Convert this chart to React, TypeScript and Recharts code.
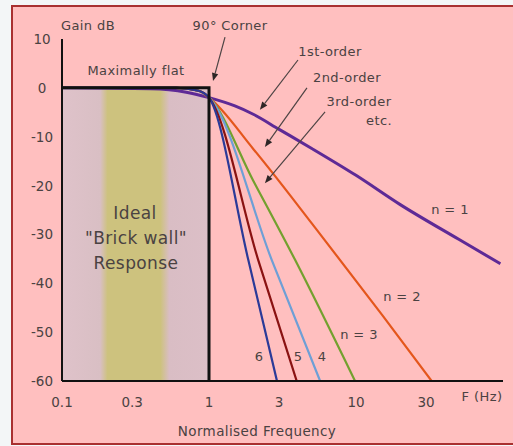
import React from "react";
import { LineChart, Line, XAxis, YAxis, ReferenceArea, ReferenceLine } from "recharts";

// frequency (normalised) vs gain (dB)
const freqTicks = [0.1, 0.3, 1, 3, 10, 30];
const gainTicks = [10, 0, -10, -20, -30, -40, -50, -60];

const ideal = [
  { f: 0.1, db: 0 },
  { f: 1, db: 0 },
  { f: 1, db: -60 },
];

const order1 = [
  { f: 0.1, db: 0 },
  { f: 0.4, db: -0.2 },
  { f: 0.7, db: -0.9 },
  { f: 1, db: -2 },
  { f: 1.5, db: -3.7 },
  { f: 2, db: -5.4 },
  { f: 3, db: -8.5 },
  { f: 5, db: -12.4 },
  { f: 10, db: -17.9 },
  { f: 20, db: -23.9 },
  { f: 50, db: -31 },
  { f: 96, db: -36 },
];

const order2 = [
  { f: 0.1, db: 0 },
  { f: 0.6, db: 0 },
  { f: 0.85, db: -0.6 },
  { f: 1, db: -2 },
  { f: 2, db: -12.5 },
  { f: 5.3, db: -28.7 },
  { f: 15, db: -46.4 },
  { f: 32.7, db: -60 },
];

const order3 = [
  { f: 0.1, db: 0 },
  { f: 0.6, db: 0 },
  { f: 0.85, db: -0.6 },
  { f: 1, db: -2 },
  { f: 2, db: -19 },
  { f: 3.85, db: -35.2 },
  { f: 9.85, db: -60 },
];

const order4 = [
  { f: 0.1, db: 0 },
  { f: 0.6, db: 0 },
  { f: 0.85, db: -0.6 },
  { f: 1, db: -2 },
  { f: 2.67, db: -35.2 },
  { f: 5.7, db: -60 },
];

const order5 = [
  { f: 0.1, db: 0 },
  { f: 0.6, db: 0 },
  { f: 0.85, db: -0.6 },
  { f: 1, db: -2 },
  { f: 2.16, db: -35.2 },
  { f: 3.95, db: -60 },
];

const order6 = [
  { f: 0.1, db: 0 },
  { f: 0.6, db: 0 },
  { f: 0.85, db: -0.6 },
  { f: 1, db: -2 },
  { f: 1.85, db: -35.2 },
  { f: 2.9, db: -60 },
];

// pointer arrows, in data units: [from, to]
const arrows = [
  [{ x: 1.285, y: 10.4 }, { x: 1.065, y: 1.4 }],
  [{ x: 4.03, y: 5.7 }, { x: 2.22, y: -4.5 }],
  [{ x: 4.64, y: 0 }, { x: 2.4, y: -12.1 }],
  [{ x: 6.16, y: -4.9 }, { x: 2.4, y: -19.5 }],
];

const textColor = "#4a4242";
const font = "'DejaVu Sans', sans-serif";

function ArrowShape(props: any) {
  const { x1, y1, x2, y2 } = props;
  if ([x1, y1, x2, y2].some((v) => typeof v !== "number" || isNaN(v))) return null;
  const ang = Math.atan2(y2 - y1, x2 - x1);
  const len = 8;
  const half = 3.2;
  const bx = x2 - len * Math.cos(ang);
  const by = y2 - len * Math.sin(ang);
  const px = -Math.sin(ang) * half;
  const py = Math.cos(ang) * half;
  return (
    <g>
      <line x1={x1} y1={y1} x2={bx} y2={by} stroke="#4d4444" strokeWidth={1.2} />
      <polygon
        points={`${x2},${y2} ${bx + px},${by + py} ${bx - px},${by - py}`}
        fill="#2e2626"
      />
    </g>
  );
}

function YTick(props: any) {
  const { x, y, payload } = props;
  return (
    <text x={x - 12} y={y} dy={5} textAnchor="middle" fontSize={13.5} fontFamily={font} fill={textColor}>
      {payload.value}
    </text>
  );
}

function XTick(props: any) {
  const { x, y, payload } = props;
  return (
    <text x={x} y={y} dy={12} textAnchor="middle" fontSize={13.5} fontFamily={font} fill={textColor}>
      {payload.value}
    </text>
  );
}

const labelStyle = { fontSize: 13, fontFamily: font, fill: textColor, letterSpacing: 0.4 };

export default function App() {
  return (
    <div style={{ position: "absolute", left: 0, top: 0, width: 513, height: 446, background: "#f3f6f7", overflow: "hidden" }}>
      <svg width={0} height={0} style={{ position: "absolute" }}>
        <defs>
          <linearGradient id="brickGrad" x1="0" y1="0" x2="1" y2="0">
            <stop offset="0" stopColor="#dfc2ca" />
            <stop offset="0.26" stopColor="#d9bfc4" />
            <stop offset="0.31" stopColor="#cdc27e" />
            <stop offset="0.67" stopColor="#cdc27e" />
            <stop offset="0.73" stopColor="#d9bdc4" />
            <stop offset="1" stopColor="#dcbfc7" />
          </linearGradient>
        </defs>
      </svg>
      <div
        style={{
          position: "absolute",
          left: 11,
          top: 5,
          width: 520,
          height: 436,
          background: "#ffbfbf",
          border: "2px solid #a83030",
        }}
      />
      <div style={{ position: "absolute", left: 0, top: 0 }}>
        <LineChart width={513} height={446} margin={{ top: 39, right: 10, left: 12, bottom: 35 }}>
          <XAxis
            dataKey="f"
            type="number"
            scale="log"
            domain={[0.1, 100]}
            ticks={freqTicks}
            allowDataOverflow
            axisLine={{ stroke: "#111", strokeWidth: 2 }}
            tickLine={false}
            tickSize={0}
            tickMargin={14}
            tick={<XTick />}
            height={30}
          />
          <YAxis
            type="number"
            domain={[-60, 10]}
            ticks={gainTicks}
            allowDataOverflow
            axisLine={{ stroke: "#111", strokeWidth: 2 }}
            tickLine={false}
            tick={<YTick />}
            width={50}
          />
          <ReferenceArea x1={0.1} x2={1} y1={-60} y2={0} fill="url(#brickGrad)" fillOpacity={1} stroke="none" />
          <Line data={order1} dataKey="db" type="monotone" stroke="#5e2a96" strokeWidth={3} dot={false} isAnimationActive={false} />
          <Line data={order2} dataKey="db" type="monotone" stroke="#e4561c" strokeWidth={2.2} dot={false} isAnimationActive={false} />
          <Line data={order3} dataKey="db" type="monotone" stroke="#73a02e" strokeWidth={2.2} dot={false} isAnimationActive={false} />
          <Line data={order4} dataKey="db" type="monotone" stroke="#6e9fd6" strokeWidth={2.2} dot={false} isAnimationActive={false} />
          <Line data={order5} dataKey="db" type="monotone" stroke="#8a1212" strokeWidth={2.2} dot={false} isAnimationActive={false} />
          <Line data={order6} dataKey="db" type="monotone" stroke="#2b3a98" strokeWidth={2.2} dot={false} isAnimationActive={false} />
          <Line data={ideal} dataKey="db" type="linear" stroke="#111" strokeWidth={3} dot={false} isAnimationActive={false} />
          {arrows.map((seg, i) => (
            <ReferenceLine key={i} segment={seg} ifOverflow="visible" shape={<ArrowShape />} />
          ))}
        </LineChart>
      </div>
      <svg width={513} height={446} style={{ position: "absolute", left: 0, top: 0, pointerEvents: "none" }}>
        <text x={88} y={30} textAnchor="middle" {...labelStyle}>Gain dB</text>
        <text x={230} y={30} textAnchor="middle" {...labelStyle}>90° Corner</text>
        <text x={136} y={75} textAnchor="middle" {...labelStyle}>Maximally flat</text>
        <text x={330} y={56} textAnchor="middle" {...labelStyle}>1st-order</text>
        <text x={347} y={82} textAnchor="middle" {...labelStyle}>2nd-order</text>
        <text x={359} y={106} textAnchor="middle" {...labelStyle}>3rd-order</text>
        <text x={379} y={125} textAnchor="middle" {...labelStyle}>etc.</text>
        <text x={135} y={219} textAnchor="middle" {...labelStyle} fontSize={17}>Ideal</text>
        <text x={136} y={244} textAnchor="middle" {...labelStyle} fontSize={17}>"Brick wall"</text>
        <text x={136} y={269} textAnchor="middle" {...labelStyle} fontSize={17}>Response</text>
        <text x={450} y={214} textAnchor="middle" {...labelStyle}>n = 1</text>
        <text x={402} y={301} textAnchor="middle" {...labelStyle}>n = 2</text>
        <text x={359} y={339} textAnchor="middle" {...labelStyle}>n = 3</text>
        <text x={259} y={361} textAnchor="middle" {...labelStyle}>6</text>
        <text x={298} y={361} textAnchor="middle" {...labelStyle}>5</text>
        <text x={322} y={361} textAnchor="middle" {...labelStyle}>4</text>
        <text x={482} y={401} textAnchor="middle" {...labelStyle}>F (Hz)</text>
        <text x={257} y={436} textAnchor="middle" {...labelStyle} fontSize={13.5}>Normalised Frequency</text>
      </svg>
    </div>
  );
}
